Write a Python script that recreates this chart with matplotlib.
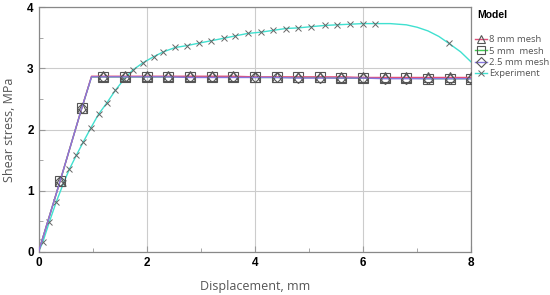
import matplotlib.pyplot as plt
from matplotlib.ticker import MultipleLocator

# Mesh simulations (kink point at 0.98 carries no marker)
mesh_x = [0, 0.4, 0.8, 0.98, 1.2, 1.6, 2.0, 2.4, 2.8, 3.2, 3.6, 4.0, 4.4, 4.8,
          5.2, 5.6, 6.0, 6.4, 6.8, 7.2, 7.6, 8.0]
mesh_8mm = [0, 1.16, 2.35, 2.87, 2.87, 2.87, 2.87, 2.87, 2.87, 2.87, 2.87, 2.86,
            2.86, 2.86, 2.86, 2.86, 2.85, 2.85, 2.85, 2.85, 2.85, 2.85]
mesh_5mm = [0, 1.16, 2.35, 2.86, 2.86, 2.86, 2.86, 2.86, 2.86, 2.86, 2.86, 2.85,
            2.85, 2.85, 2.85, 2.84, 2.84, 2.84, 2.84, 2.83, 2.83, 2.83]
mesh_25mm = [0, 1.16, 2.35, 2.86, 2.86, 2.86, 2.86, 2.86, 2.85, 2.85, 2.85, 2.85,
             2.85, 2.84, 2.84, 2.84, 2.84, 2.83, 2.83, 2.83, 2.83, 2.83]
mesh_marks = [1, 2] + list(range(4, len(mesh_x)))

# Experiment
exp_x = [0, 0.08, 0.2, 0.33, 0.46, 0.57, 0.70, 0.83, 0.97, 1.11, 1.26, 1.42,
         1.58, 1.74, 1.93, 2.13, 2.31, 2.53, 2.74, 2.96, 3.19, 3.42, 3.64,
         3.87, 4.11, 4.34, 4.57, 4.80, 5.04, 5.29, 5.51, 5.75, 5.99, 6.22,
         6.5, 6.8, 7.0, 7.2, 7.4, 7.58, 7.8, 8.0]
exp_y = [0, 0.16, 0.49, 0.82, 1.12, 1.35, 1.58, 1.80, 2.03, 2.25, 2.43, 2.64,
         2.82, 2.97, 3.09, 3.19, 3.27, 3.34, 3.37, 3.41, 3.45, 3.49, 3.53,
         3.57, 3.59, 3.62, 3.65, 3.66, 3.68, 3.70, 3.71, 3.72, 3.73, 3.73,
         3.73, 3.71, 3.67, 3.61, 3.52, 3.41, 3.27, 3.10]
exp_marks = list(range(1, 34)) + [39]

fig = plt.figure(figsize=(5.5, 2.95), dpi=100)
ax = fig.add_axes([0.07, 0.146, 0.787, 0.83])

mk = dict(markerfacecolor="none", markeredgecolor="#555555", markeredgewidth=0.8,
          markersize=6.5)
ax.plot(mesh_x, mesh_5mm, color="#44cc55", lw=1, marker="s", markevery=mesh_marks,
        label="5 mm  mesh", zorder=3, **mk)
ax.plot(mesh_x, mesh_8mm, color="#e0507a", lw=1, marker="^", markevery=mesh_marks,
        label="8 mm mesh", zorder=4, **mk)
ax.plot(mesh_x, mesh_25mm, color="#8877dd", lw=1, marker="D", markevery=mesh_marks,
        label="2.5 mm mesh", zorder=5, **dict(mk, markersize=5.5))
ax.plot(exp_x, exp_y, color="#40e0d0", lw=1, marker="x", markevery=exp_marks,
        label="Experiment", zorder=2, markeredgecolor="#666666",
        markeredgewidth=0.7, markersize=5)

ax.set_xlim(0, 8)
ax.set_ylim(0, 4)
ax.xaxis.set_major_locator(MultipleLocator(2))
ax.xaxis.set_minor_locator(MultipleLocator(1))
ax.yaxis.set_major_locator(MultipleLocator(1))
ax.yaxis.set_minor_locator(MultipleLocator(0.5))
ax.tick_params(which="both", direction="in", color="#999999")
ax.tick_params(which="major", length=4)
ax.tick_params(which="minor", length=3)
ax.grid(True, which="major", color="#cccccc", lw=0.8)
ax.set_axisbelow(True)
for s in ax.spines.values():
    s.set_color("#888888")
    s.set_linewidth(0.9)
for lbl in ax.get_xticklabels() + ax.get_yticklabels():
    lbl.set_fontweight("bold")
    lbl.set_fontsize(8.5)
    lbl.set_family("Liberation Sans")

ax.set_xlabel("Displacement, mm", fontsize=9, color="#555555", family="Open Sans", labelpad=8)
ax.set_ylabel("Shear stress, MPa", fontsize=9, color="#555555", family="Open Sans", labelpad=8)

h, l = ax.get_legend_handles_labels()
order = [1, 0, 2, 3]
leg = ax.legend([h[i] for i in order], [l[i] for i in order],
                loc="upper left", bbox_to_anchor=(1.0, 0.9), frameon=False,
                prop={"family": "Open Sans", "size": 6.8}, handlelength=1.3,
                handletextpad=0.15, labelspacing=0.25, borderaxespad=0.2,
                borderpad=0.2, markerscale=0.85)
for t in leg.get_texts():
    t.set_color("#555555")
fig.text(477 / 550, 1 - 15 / 295, "Model", fontsize=7.5, fontweight="bold",
         family="Liberation Sans", va="center", ha="left")

fig.savefig("out.png", dpi=100)
